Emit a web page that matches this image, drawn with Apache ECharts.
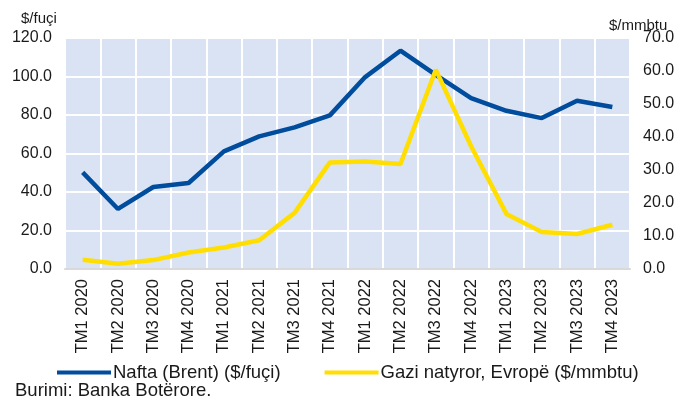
<!DOCTYPE html>
<html>
<head>
<meta charset="utf-8">
<script src="https://cdn.jsdelivr.net/npm/echarts@6/dist/echarts.min.js"></script>
<style>
html, body { margin: 0; padding: 0; background: #fff; }
#chart { width: 680px; height: 400px; }
</style>
</head>
<body>
<div id="chart"></div>
<script>
var categories = ['TM1 2020', 'TM2 2020', 'TM3 2020', 'TM4 2020', 'TM1 2021', 'TM2 2021', 'TM3 2021', 'TM4 2021',
	'TM1 2022', 'TM2 2022', 'TM3 2022', 'TM4 2022', 'TM1 2023', 'TM2 2023', 'TM3 2023', 'TM4 2023'];
var brent = [50.2, 31.2, 42.6, 44.7, 61.1, 68.9, 73.6, 79.8, 99.7, 113.4, 100.9, 88.8, 82.2, 78.4, 87.4, 84.2];
var gas = [2.8, 1.6, 2.7, 5.0, 6.5, 8.7, 17.0, 32.3, 32.6, 31.8, 60.4, 37.2, 16.7, 11.2, 10.6, 13.4];
var seriesNames = ['Nafta (Brent) ($/fuçi)', 'Gazi natyror, Evropë ($/mmbtu)'];

var font = 'Liberation Sans, Arial, sans-serif';
var myChart = echarts.init(document.getElementById('chart'));
var option = {
	backgroundColor: '#fff',
	textStyle: { fontFamily: font, color: '#1a1a1a' },
	grid: { left: 65, right: 50, top: 38, bottom: 131, show: true, backgroundColor: '#dae3f3', borderWidth: 0 },
	legend: {
		data: seriesNames,
		top: 358,
		left: 52,
		icon: 'rect',
		itemWidth: 54,
		itemHeight: 4,
		itemGap: 44,
		textStyle: { fontFamily: font, fontSize: 18.5, color: '#1a1a1a', padding: [0, 0, 0, -3] }
	},
	graphic: [{
		type: 'text',
		left: 15,
		top: 381,
		style: { text: 'Burimi: Banka Botërore.', font: '18.5px ' + font, fill: '#1a1a1a' }
	}, {
		type: 'text',
		left: 21,
		top: 11,
		style: { text: '$/fuçi', font: '15px ' + font, fill: '#1a1a1a' }
	}, {
		type: 'text',
		left: 609,
		top: 18,
		style: { text: '$/mmbtu', font: '15px ' + font, fill: '#1a1a1a' }
	}],
	xAxis: [{
		type: 'category',
		data: categories,
		boundaryGap: true,
		axisLine: { lineStyle: { color: '#d9d9d9', width: 2 } },
		axisTick: { show: false },
		axisLabel: { rotate: 90, fontSize: 16.5, color: '#1a1a1a', margin: 10, interval: 0 },
		splitLine: { show: true, lineStyle: { color: '#fff', width: 2 } }
	}],
	yAxis: [{
		type: 'value',
		min: 0,
		max: 120,
		interval: 20,
		axisLabel: { fontSize: 16, color: '#1a1a1a', margin: 13, formatter: function (v) { return v.toFixed(1); } },
		axisLine: { show: false },
		axisTick: { show: false },
		splitLine: { lineStyle: { color: '#fff', width: 2 } }
	}, {
		type: 'value',
		min: 0,
		max: 70,
		interval: 10,
		axisLabel: { fontSize: 16, color: '#1a1a1a', margin: 13, formatter: function (v) { return v.toFixed(1); } },
		axisLine: { show: false },
		axisTick: { show: false },
		splitLine: { show: false }
	}],
	series: [{
		name: seriesNames[0],
		type: 'line',
		yAxisIndex: 0,
		data: brent,
		symbol: 'none',
		lineStyle: { color: '#004c9d', width: 4.5 },
		itemStyle: { color: '#004c9d' }
	}, {
		name: seriesNames[1],
		type: 'line',
		yAxisIndex: 1,
		data: gas,
		symbol: 'none',
		lineStyle: { color: '#ffde00', width: 4.5 },
		itemStyle: { color: '#ffde00' }
	}]
};
myChart.setOption(option);
</script>
</body>
</html>
